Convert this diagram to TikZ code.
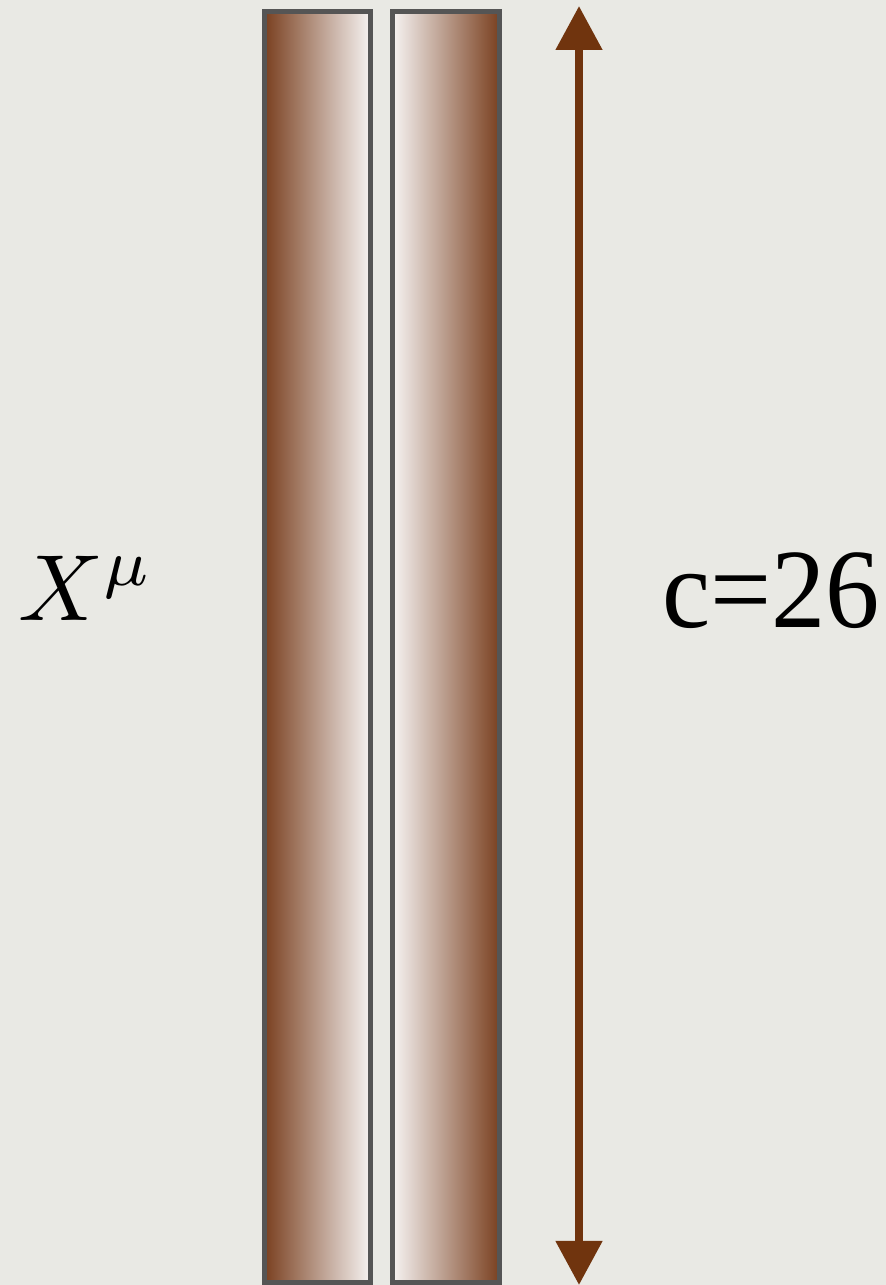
\documentclass[tikz,border=0pt]{standalone}
\usepackage{amsmath}
\usepackage{fontspec}
\usepackage{xcolor}
\usepackage{tikz}
\usetikzlibrary{arrows.meta}

\newfontfamily\labelfont{Liberation Serif}

\definecolor{paper}{RGB}{233,233,228}
\definecolor{rimgray}{RGB}{85,85,85}
\definecolor{woodbrown}{RGB}{122,64,32}
\definecolor{woodlight}{RGB}{246,243,242}
\definecolor{spanbrown}{RGB}{112,52,14}

\begin{document}
\begin{tikzpicture}[x=1pt, y=1pt,
                    bar/.style={draw=rimgray, line width=5pt, rectangle,
                                inner sep=0pt, outer sep=0pt,
                                minimum height=1271.5pt},
                    span/.style={draw=spanbrown, line width=8pt,
                                 {Triangle[width=45pt,length=44pt]}-{Triangle[width=45pt,length=44pt]}}]
  \fill[paper] (0,0) rectangle (886,1285);
  \useasboundingbox (0,0) rectangle (886,1285);

  % the two strips
  \node[bar, minimum width=106pt, left color=woodbrown, right color=woodlight]
    (leftbar) at (317.5,637.75) {};
  \node[bar, minimum width=107pt, left color=woodlight, right color=woodbrown]
    (rightbar) at (446,637.75) {};

  % labels
  \node[scale=9.4] (field) at (86,697) {$X^{\mu}$};
  \node[xscale=0.96] (charge) at (771,694) {\labelfont\fontsize{113}{113}\selectfont c=26};

  % arrow along the strips
  \coordinate (spantop) at (579,1279);
  \coordinate (spanbot) at (579,0);
  \draw[span] (spanbot) -- (spantop);
\end{tikzpicture}
\end{document}
